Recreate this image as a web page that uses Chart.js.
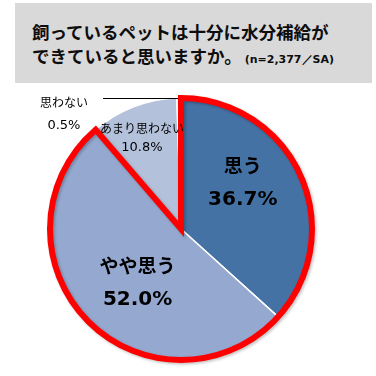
<!DOCTYPE html>
<html>
<head>
<meta charset="utf-8">
<script src="https://cdn.jsdelivr.net/npm/chart.js@4.4.0/dist/chart.umd.min.js"></script>
<style>
  html, body { margin: 0; padding: 0; background: #fff; }
  #wrap { position: relative; width: 376px; height: 376px; overflow: hidden; }
  #titlebox { position: absolute; left: 15px; top: 3px; width: 357px; height: 80px; background: #d9d9d9; }
  .tl { position: absolute; left: 32px; white-space: nowrap; font-family: "Noto Sans CJK JP", sans-serif; font-weight: bold; font-size: 17.5px; line-height: 24px; color: #0d0d0d; }
  .tl .n { font-family: "DejaVu Sans", sans-serif; font-size: 11px; font-weight: bold; margin-left: 3px; }
  canvas { position: absolute; left: 0; top: 0; }
</style>
</head>
<body>
<div id="wrap">
  <div id="titlebox"></div>
  <div class="tl" id="t1" style="top:20px"></div>
  <div class="tl" id="t2" style="top:44px"></div>
  <canvas id="c" width="376" height="376"></canvas>
</div>
<script>
// ---- data ----
const titleLine1 = "飼っているペットは十分に水分補給が";
const titleLine2 = "できていると思いますか。";
const titleNote = "(n=2,377／SA)";
const categories = ["思う", "やや思う", "あまり思わない", "思わない"];
const values = [36.7, 52.0, 10.8, 0.5];
const valueLabels = ["36.7%", "52.0%", "10.8%", "0.5%"];
const highlightedSlices = [0, 1];

// ---- styles ----
const sliceColors = ["#4572a5", "#95a9d0", "#b4c1db", "#d6dcea"];
const labelStyles = [
  { rf: 0.59, da: -13, catFont: "bold 19px 'Noto Sans CJK JP'", valFont: "bold 20px 'DejaVu Sans'", gap: 34 },
  { rf: 0.53, da: -7, catFont: "bold 19px 'Noto Sans CJK JP'", valFont: "bold 20px 'DejaVu Sans'", gap: 34 },
  { rf: 0.756, da: -2, catFont: "12px 'Noto Sans CJK JP'", valFont: "13px 'DejaVu Sans'", gap: 20 },
  { outside: true, catFont: "12px 'Noto Sans CJK JP'", valFont: "13px 'DejaVu Sans'", gap: 23 }
];

document.getElementById('t1').textContent = titleLine1;
const t2 = document.getElementById('t2');
t2.textContent = titleLine2;
const sp = document.createElement('span'); sp.className = 'n'; sp.textContent = titleNote; t2.appendChild(sp);

const outlinePlugin = {
  id: 'outline',
  afterDatasetsDraw(chart) {
    const meta = chart.getDatasetMeta(0);
    const a0 = meta.data[highlightedSlices[0]];
    const a1 = meta.data[highlightedSlices[highlightedSlices.length - 1]];
    const x = a0.x, y = a0.y, r = a0.outerRadius;
    const ctx = chart.ctx;
    ctx.save();
    ctx.beginPath();
    ctx.moveTo(x, y);
    ctx.lineTo(x + r * Math.cos(a0.startAngle), y + r * Math.sin(a0.startAngle));
    ctx.arc(x, y, r, a0.startAngle, a1.endAngle);
    ctx.closePath();
    ctx.shadowColor = 'rgba(0,0,0,0.25)';
    ctx.shadowBlur = 3;
    ctx.shadowOffsetX = 1.5;
    ctx.shadowOffsetY = 1.5;
    ctx.strokeStyle = '#ff0000';
    ctx.lineWidth = 6;
    ctx.lineJoin = 'miter';
    ctx.miterLimit = 10;
    ctx.stroke();
    ctx.restore();
  }
};

const labelPlugin = {
  id: 'sliceLabels',
  afterDraw(chart) {
    const meta = chart.getDatasetMeta(0);
    const ctx = chart.ctx;
    ctx.save();
    ctx.fillStyle = '#000';
    ctx.textAlign = 'center';
    ctx.textBaseline = 'middle';
    meta.data.forEach((arc, i) => {
      const st = labelStyles[i];
      const mid = (arc.startAngle + arc.endAngle) / 2;
      const r = arc.outerRadius;
      let cx, cy;
      if (st.outside) {
        const ex = arc.x + r * Math.cos(mid), ey = arc.y + r * Math.sin(mid);
        const lx = ex - 76;
        ctx.strokeStyle = '#000';
        ctx.lineWidth = 1;
        ctx.beginPath();
        ctx.moveTo(Math.round(ex) - 1, Math.round(ey) + 0.5);
        ctx.lineTo(Math.round(lx), Math.round(ey) + 0.5);
        ctx.stroke();
        cx = lx - 39; cy = ey + 16;
      } else {
        const a = mid + st.da * Math.PI / 180;
        cx = arc.x + st.rf * r * Math.cos(a);
        cy = arc.y + st.rf * r * Math.sin(a);
      }
      ctx.font = st.catFont;
      ctx.fillText(categories[i], cx, cy - st.gap / 2);
      ctx.font = st.valFont;
      ctx.fillText(valueLabels[i], cx, cy + st.gap / 2);
    });
    ctx.restore();
  }
};

new Chart(document.getElementById('c'), {
  type: 'pie',
  data: {
    labels: categories,
    datasets: [{
      data: values,
      backgroundColor: sliceColors,
      borderColor: '#ffffff',
      borderWidth: 1.5
    }]
  },
  options: {
    responsive: false,
    animation: false,
    radius: 131,
    layout: { padding: { left: 40, right: 54, top: 92, bottom: 10 } },
    plugins: { legend: { display: false }, tooltip: { enabled: false } }
  },
  plugins: [outlinePlugin, labelPlugin]
});
</script>
</body>
</html>
